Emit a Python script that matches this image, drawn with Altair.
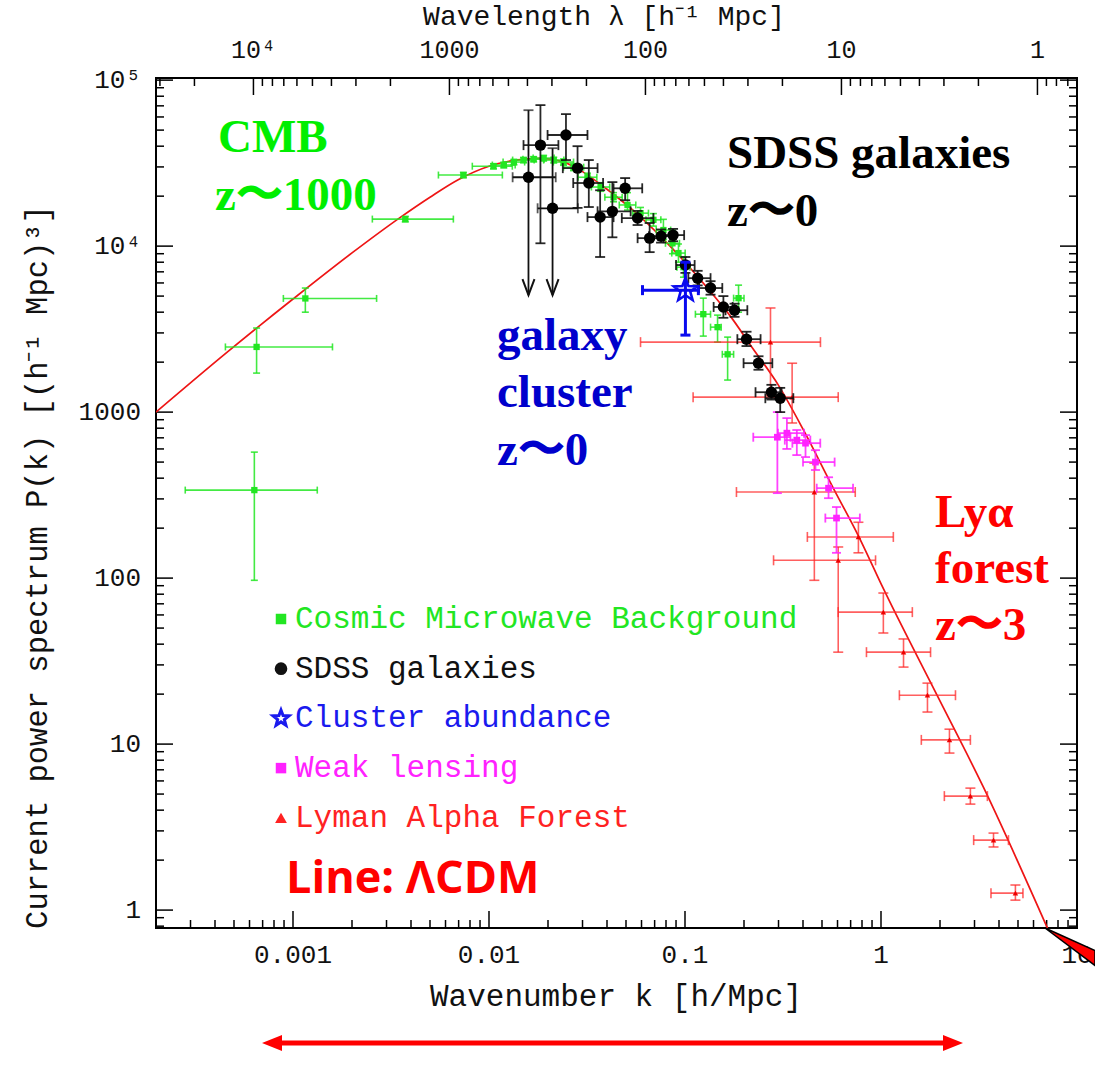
import math
import altair as alt
import pandas as pd

# ---------------- data (k in h/Mpc, P(k) in (h^-1 Mpc)^3) ----------------
curve_k = [2.0e-4, 4.6e-4, 1.0e-3, 2.0e-3, 3.5e-3, 5.0e-3, 7.0e-3, 0.010, 0.014, 0.0185,
           0.024, 0.0283, 0.040, 0.060, 0.080, 0.100, 0.130, 0.170, 0.220, 0.300,
           0.400, 0.570, 0.770, 1.03, 1.94, 3.33, 7.06]
curve_P = [1000, 2290, 4800, 9100, 14800, 19700, 25200, 30300, 33100, 33800,
           32200, 29300, 22000, 14800, 10600, 8000, 5600, 3800, 2450, 1450,
           790, 350, 178, 86, 19.5, 5.5, 0.78]

cmb_k = [6.35e-4, 6.52e-4, 1.156e-3, 3.74e-3, 7.4e-3, 0.01054,
         0.0119, 0.0134, 0.0150, 0.0169, 0.0190, 0.0214, 0.0240, 0.0270, 0.0318, 0.0371,
         0.0432, 0.0509, 0.0593, 0.0690, 0.0776, 0.0863, 0.0926, 0.0982,
         0.124, 0.1466, 0.165, 0.1876]
cmb_P = [339, 2470, 4840, 14550, 26800, 30300,
         30800, 32100, 33000, 33400, 33900, 33000, 32100, 29900, 26000, 22700,
         19700, 17700, 15800, 14400, 12500, 10400, 9080, 7470,
         3890, 3250, 2230, 4860]
cmb_klo = [2.82e-4, 4.52e-4, 8.93e-4, 2.54e-3, 5.52e-3, 8.22e-3,
           0.0104, 0.0118, 0.0132, 0.0149, 0.0168, 0.0190, 0.0213, 0.0240, 0.0285, 0.0333,
           0.0390, 0.0462, 0.0540, 0.0632, 0.0713, 0.0795, 0.0856, 0.0910,
           0.113, 0.135, 0.155, 0.177]
cmb_khi = [1.33e-3, 1.59e-3, 2.67e-3, 6.58e-3, 0.0117, 0.01315,
           0.0136, 0.0152, 0.0170, 0.0191, 0.0215, 0.0241, 0.0270, 0.0304, 0.0355, 0.0413,
           0.0478, 0.0561, 0.0651, 0.0753, 0.0845, 0.0937, 0.1002, 0.1060,
           0.135, 0.153, 0.177, 0.200]
cmb_Plo = [97, 1718, 4000, 14000, 25800, 29200,
           29600, 30900, 31800, 32200, 32600, 31700, 30700, 28500, 24600, 21400,
           18500, 16500, 14600, 13200, 11000, 9000, 8000, 6500,
           2870, 2640, 1560, 4000]
cmb_Phi = [574, 3210, 5590, 15100, 27800, 31400,
           32000, 33300, 34200, 34600, 35200, 34300, 33500, 31400, 27500, 24100,
           21000, 21000, 17100, 15700, 14500, 12500, 10300, 8600,
           4860, 3840, 2830, 5820]

sdss_k = [0.0183, 0.0247, 0.0283, 0.0323, 0.0369, 0.0426, 0.0495, 0.0573, 0.0660, 0.0755,
          0.0869, 0.1005, 0.116, 0.135, 0.157, 0.179, 0.206, 0.237, 0.276, 0.306]
sdss_P = [40600, 46700, 29500, 24000, 14960, 16200, 22300, 14760, 11170, 11480,
          11650, 7690, 6410, 5590, 4300, 4110, 2750, 1972, 1318, 1213]
sdss_klo = [0.0150, 0.0199, 0.0238, 0.0269, 0.0318, 0.0358, 0.0432, 0.0476, 0.0573, 0.0655,
            0.0760, 0.0900, 0.104, 0.118, 0.140, 0.161, 0.185, 0.199, 0.229, 0.257]
sdss_khi = [0.0226, 0.0318, 0.0358, 0.0382, 0.0432, 0.0528, 0.0605, 0.0690, 0.0776, 0.0880,
            0.0990, 0.1120, 0.135, 0.155, 0.175, 0.208, 0.243, 0.279, 0.311, 0.357]
sdss_Plo = [10400, 33000, 17000, 17200, 8600, 11300, 18900, 13400, 9200, 10500,
            10700, 6900, 5800, 5100, 3700, 3750, 2500, 1800, 1190, 1000]
sdss_Phi = [70700, 62400, 40000, 33000, 21700, 24300, 25700, 16300, 13780, 12600,
            12700, 8600, 7100, 6150, 5000, 4500, 3050, 2170, 1460, 1400]

# SDSS points whose lower error is an upper limit (arrow)
sdssul_k = [0.0159, 0.0211]
sdssul_P = [26000, 16900]
sdssul_klo = [0.0132, 0.0177]
sdssul_khi = [0.0219, 0.0284]
sdssul_Phi = [65900, 38900]
sdssul_tip = [5070, 5070]

clus_k = [0.1005]
clus_P = [5430]
clus_klo = [0.0607]
clus_khi = [0.117]
clus_Plo = [2910]
clus_Phi = [8000]

wl_k = [0.296, 0.331, 0.372, 0.412, 0.463, 0.540, 0.593]
wl_P = [706, 747, 678, 650, 500, 348, 230]
wl_klo = [0.223, 0.298, 0.323, 0.353, 0.400, 0.470, 0.520]
wl_khi = [0.345, 0.405, 0.436, 0.490, 0.580, 0.720, 0.780]
wl_Plo = [325, 600, 551, 536, 448, 303, 142]
wl_Phi = [1000, 920, 780, 727, 590, 405, 268]

lya_k = [0.273, 0.352, 0.457, 0.605, 0.767, 1.028, 1.303, 1.726, 2.235, 2.858, 3.75, 4.85]
lya_P = [2640, 1231, 330, 128, 177, 62.4, 35.8, 19.7, 10.6, 4.86, 2.64, 1.265]
lya_klo = [0.0593, 0.110, 0.183, 0.283, 0.421, 0.605, 0.843, 1.241, 1.606, 2.105, 2.97, 3.64]
lya_khi = [0.491, 0.605, 0.739, 0.938, 1.156, 1.445, 1.79, 2.399, 2.858, 3.49, 4.47, 5.30]
lya_Plo = [1265, 860, 97, 35.8, 142, 46.7, 29.1, 15.6, 8.83, 4.35, 2.40, 1.148]
lya_Phi = [4240, 1970, 493, 154, 217, 81.3, 43, 23.3, 12.3, 5.43, 2.91, 1.416]

legend_labels = ["Cosmic Microwave Background", "SDSS galaxies", "Cluster abundance",
                 "Weak lensing", "Lyman Alpha Forest"]

# axis tick values and labels
k_major = [0.001, 0.01, 0.1, 1, 10]
k_labels = ["0.001", "0.01", "0.1", "1", "10"]
y_major = [1, 10, 100, 1000, 10000, 100000]
y_labels = ["1", "10", "100", "1000", "10⁴", "10⁵"]
lam_major = [1, 10, 100, 1000, 10000]
lam_labels = ["1", "10", "100", "1000", "10⁴"]

K_MIN, K_MAX = 2.0e-4, 10.0
P_MIN, P_MAX = 0.78, 1.03e5
LAM_MIN, LAM_MAX = 2 * math.pi / K_MAX, 2 * math.pi / K_MIN

k_minor = [m * 10.0 ** e for e in range(-4, 1) for m in range(2, 10)
           if K_MIN * 1.001 < m * 10.0 ** e < K_MAX]
y_minor = [m * 10.0 ** e for e in range(-1, 5) for m in range(2, 10)
           if P_MIN < m * 10.0 ** e < P_MAX]
lam_minor = [m * 10.0 ** e for e in range(-1, 5) for m in range(2, 10)
             if LAM_MIN < m * 10.0 ** e < LAM_MAX]

# ---------------- styling ----------------
W, H = 921, 850
MONO = "Liberation Mono"
SERIF = "Liberation Serif"
GREEN = "#22e622"
BLACK = "#000000"
BLUE = "#0a0aee"
MAGENTA = "#ff22ff"
RED = "#ff2a2a"
TXT = "#111111"

# five-pointed star outline as an SVG path in the [-1, 1] box
_pts = []
for i in range(10):
    r = 1.0 if i % 2 == 0 else 0.42
    a = math.radians(-90 + 36 * i)
    _pts.append("%.3f,%.3f" % (r * math.cos(a), r * math.sin(a)))
STAR = "M" + "L".join(_pts) + "Z"

XS = alt.Scale(type="log", domain=[K_MIN, K_MAX], nice=False)
YS = alt.Scale(type="log", domain=[P_MIN, P_MAX], nice=False)


def X(f):
    return alt.X(f, type="quantitative", scale=XS, axis=None)


def Y(f):
    return alt.Y(f, type="quantitative", scale=YS, axis=None)


def frame(k, P, klo, khi, Plo, Phi):
    return pd.DataFrame(dict(k=k, P=P, klo=klo, khi=khi, Plo=Plo, Phi=Phi))


def err_layers(df, color, width, cap, opacity=1.0):
    base = alt.Chart(df)
    return [
        base.mark_rule(color=color, strokeWidth=width, opacity=opacity).encode(
            x=X("klo"), x2="khi", y=Y("P")),
        base.mark_rule(color=color, strokeWidth=width, opacity=opacity).encode(
            x=X("k"), y=Y("Plo"), y2="Phi"),
        base.transform_fold(["klo", "khi"], as_=["end", "kc"]).mark_tick(
            orient="vertical", size=cap, thickness=width, color=color, opacity=opacity).encode(
            x=X("kc"), y=Y("P")),
        base.transform_fold(["Plo", "Phi"], as_=["end", "pc"]).mark_tick(
            orient="horizontal", size=cap, thickness=width, color=color, opacity=opacity).encode(
            x=X("k"), y=Y("pc")),
    ]


cmb = frame(cmb_k, cmb_P, cmb_klo, cmb_khi, cmb_Plo, cmb_Phi)
sdss = frame(sdss_k, sdss_P, sdss_klo, sdss_khi, sdss_Plo, sdss_Phi)
clus = frame(clus_k, clus_P, clus_klo, clus_khi, clus_Plo, clus_Phi)
wl = frame(wl_k, wl_P, wl_klo, wl_khi, wl_Plo, wl_Phi)
lya = frame(lya_k, lya_P, lya_klo, lya_khi, lya_Plo, lya_Phi)
sdss_ul = pd.DataFrame(dict(k=sdssul_k, P=sdssul_P, klo=sdssul_klo, khi=sdssul_khi,
                            Phi=sdssul_Phi, tip=sdssul_tip))
curve = pd.DataFrame(dict(k=curve_k, P=curve_P))
one = pd.DataFrame(dict(a=[0]))

layers = []

# ---------------- frame ticks on all four sides ----------------
ymaj = pd.DataFrame(dict(v=y_major))
ymin = pd.DataFrame(dict(v=y_minor))
kmaj = pd.DataFrame(dict(v=k_major[:-1]))
kmin = pd.DataFrame(dict(v=k_minor))
for df, ln in ((ymaj, 17), (ymin, 8)):
    layers.append(alt.Chart(df).mark_rule(color="black", strokeWidth=1.5).encode(
        y=Y("v"), x=alt.value(0), x2=alt.value(ln)))
    layers.append(alt.Chart(df).mark_rule(color="black", strokeWidth=1.5).encode(
        y=Y("v"), x=alt.value(W), x2=alt.value(W - ln)))
for df, ln in ((kmaj, 17), (kmin, 8)):
    layers.append(alt.Chart(df).mark_rule(color="black", strokeWidth=1.5).encode(
        x=X("v"), y=alt.value(H), y2=alt.value(H - ln)))
# top: wavelength lambda = 2*pi/k, placed on the k scale
for vals, ln in ((lam_major, 17), (lam_minor, 8)):
    layers.append(alt.Chart(pd.DataFrame(dict(lam=vals))).transform_calculate(
        kk="2 * PI / datum.lam").mark_rule(color="black", strokeWidth=1.5).encode(
        x=X("kk"), y=alt.value(0), y2=alt.value(ln)))

# ---------------- tick labels and axis titles ----------------
layers.append(alt.Chart(pd.DataFrame(dict(v=k_major, t=k_labels))).mark_text(
    font=MONO, fontSize=26, color=TXT, align="center", baseline="middle").encode(
    x=X("v"), y=alt.value(H + 27), text="t"))
layers.append(alt.Chart(pd.DataFrame(dict(v=y_major, t=y_labels))).mark_text(
    font=MONO, fontSize=26, color=TXT, align="right", baseline="middle").encode(
    y=Y("v"), x=alt.value(-15), text="t"))
layers.append(alt.Chart(pd.DataFrame(dict(lam=lam_major, t=lam_labels))).transform_calculate(
    kk="2 * PI / datum.lam").mark_text(
    font=MONO, fontSize=25, color=TXT, align="center", baseline="middle").encode(
    x=X("kk"), y=alt.value(-28), text="t"))
layers += [
    alt.Chart(one).mark_text(text="Wavenumber k [h/Mpc]", font=MONO, fontSize=31, color=TXT,
                             align="center", baseline="middle").encode(
        x=alt.value(460), y=alt.value(919)),
    alt.Chart(one).mark_text(text="Wavelength λ [h⁻¹ Mpc]", font=MONO, fontSize=28, color=TXT,
                             align="center", baseline="middle").encode(
        x=alt.value(448), y=alt.value(-61)),
    alt.Chart(one).mark_text(text="Current power spectrum P(k) [(h⁻¹ Mpc)³]", font=MONO,
                             fontSize=30.5, color=TXT, align="center", baseline="middle",
                             angle=270).encode(
        x=alt.value(-118), y=alt.value(489)),
]

# ---------------- model curve ----------------
layers.append(alt.Chart(curve).mark_line(color="#ee1515", strokeWidth=1.7, clip=True,
                                         interpolate="monotone").encode(
    x=X("k"), y=Y("P")))

# ---------------- data series ----------------
layers += err_layers(cmb, GREEN, 1.6, 7, 0.85)
layers.append(alt.Chart(cmb).mark_point(shape="square", filled=True, size=40, color=GREEN, opacity=1).encode(
    x=X("k"), y=Y("P")))

layers += err_layers(lya, RED, 1.6, 10, 0.75)
layers.append(alt.Chart(lya).mark_point(shape="triangle-up", filled=True, size=30, color="#ee0000", opacity=1).encode(
    x=X("k"), y=Y("P")))

layers += err_layers(wl, MAGENTA, 1.8, 9, 0.85)
layers.append(alt.Chart(wl).mark_point(shape="square", filled=True, size=45, color=MAGENTA, opacity=1).encode(
    x=X("k"), y=Y("P")))

layers += err_layers(sdss, "#111111", 1.8, 10, 0.9)
ulb = alt.Chart(sdss_ul)
layers += [
    ulb.mark_rule(color="#111111", strokeWidth=1.8).encode(x=X("klo"), x2="khi", y=Y("P")),
    ulb.mark_rule(color="#111111", strokeWidth=1.8).encode(x=X("k"), y=Y("tip"), y2="Phi"),
    ulb.transform_fold(["klo", "khi"], as_=["end", "kc"]).mark_tick(
        orient="vertical", size=10, thickness=1.8, color="#111111").encode(x=X("kc"), y=Y("P")),
    ulb.mark_tick(orient="horizontal", size=10, thickness=1.8, color="#111111").encode(x=X("k"), y=Y("Phi")),
    ulb.mark_point(shape="M-0.6,-1.6L0,0L0.6,-1.6", filled=False, size=400, color="#111111",
                   strokeWidth=2, opacity=1).encode(x=X("k"), y=Y("tip")),
]
layers.append(alt.Chart(sdss).mark_point(shape="circle", filled=True, size=130, color=BLACK, opacity=1).encode(
    x=X("k"), y=Y("P")))
layers.append(ulb.mark_point(shape="circle", filled=True, size=130, color=BLACK, opacity=1).encode(
    x=X("k"), y=Y("P")))

layers += err_layers(clus, BLUE, 3, 10, 1.0)
layers.append(alt.Chart(clus).mark_point(shape=STAR, filled=False, size=600, color=BLUE, strokeWidth=2.6, opacity=1).encode(
    x=X("k"), y=Y("P")))


# ---------------- annotations ----------------
def label(text, x, y, color, size=47, font=SERIF, weight="bold"):
    return alt.Chart(one).mark_text(text=text, font=font, fontSize=size, fontWeight=weight,
                                    color=color, align="left", baseline="alphabetic").encode(
        x=alt.value(x), y=alt.value(y))


layers += [
    label("CMB", 62, 74, "#00ee00"),
    label("z〜1000", 59, 132, "#00ee00"),
    label("SDSS galaxies", 571, 90, BLACK),
    label("z〜0", 571, 148, BLACK),
    label("galaxy", 341, 272, "#0000cc"),
    label("cluster", 341, 329, "#0000cc"),
    label("z〜0", 341, 387, "#0000cc"),
    label("Lyα", 779, 449, "#ff0000"),
    label("forest", 779, 505, "#ff0000"),
    label("z〜3", 779, 562, "#ff0000"),
    label("Line: ΛCDM", 130, 815, "#ff0000", size=45, font="Open Sans"),
]

# legend (inside the plot)
leg_colors = [GREEN, "#111111", "#1a1aee", MAGENTA, "#ff2222"]
leg_shapes = ["square", "circle", STAR, "square", "triangle-up"]
leg_sizes = [110, 160, 280, 110, 140]
for i, (lab, col, shp, sz) in enumerate(zip(legend_labels, leg_colors, leg_shapes, leg_sizes)):
    yy = 541 + 49.7 * i
    if shp == STAR:
        sym = alt.Chart(one).mark_point(shape=shp, filled=False, size=sz, color=col, opacity=1,
                                        strokeWidth=3)
    else:
        sym = alt.Chart(one).mark_point(shape=shp, filled=True, size=sz, color=col, opacity=1)
    layers.append(sym.encode(x=alt.value(125), y=alt.value(yy)))
    layers.append(alt.Chart(one).mark_text(text=lab, font=MONO, fontSize=31, color=col,
                                           align="left", baseline="middle").encode(
        x=alt.value(139), y=alt.value(yy)))

# red double-headed arrow below the chart and the stray wedge at the corner
layers += [
    alt.Chart(one).mark_rule(color="#ff0000", strokeWidth=5).encode(
        x=alt.value(118), x2=alt.value(795), y=alt.value(965)),
    alt.Chart(one).mark_point(shape="M-1,0L1,-0.8L1,0.8Z", filled=True, size=400, color="#ff0000", opacity=1).encode(
        x=alt.value(116), y=alt.value(965)),
    alt.Chart(one).mark_point(shape="M1,0L-1,-0.8L-1,0.8Z", filled=True, size=400, color="#ff0000", opacity=1).encode(
        x=alt.value(797), y=alt.value(965)),
    alt.Chart(one).mark_point(shape="M-1,-0.8L1,0.1L1,0.7Z", filled=True, size=2500, fill="#ff0000",
                              stroke="black", strokeWidth=1.5, opacity=1).encode(
        x=alt.value(914), y=alt.value(870)),
]

chart = alt.layer(*layers).properties(
    width=W, height=H,
    autosize=alt.AutoSizeParams(type="none"),
    padding={"left": 156, "top": 78, "right": 18, "bottom": 138},
    background="white",
).configure_view(stroke="black", strokeWidth=2)

chart.save("out.html", embed_options={"renderer": "svg", "actions": False})
